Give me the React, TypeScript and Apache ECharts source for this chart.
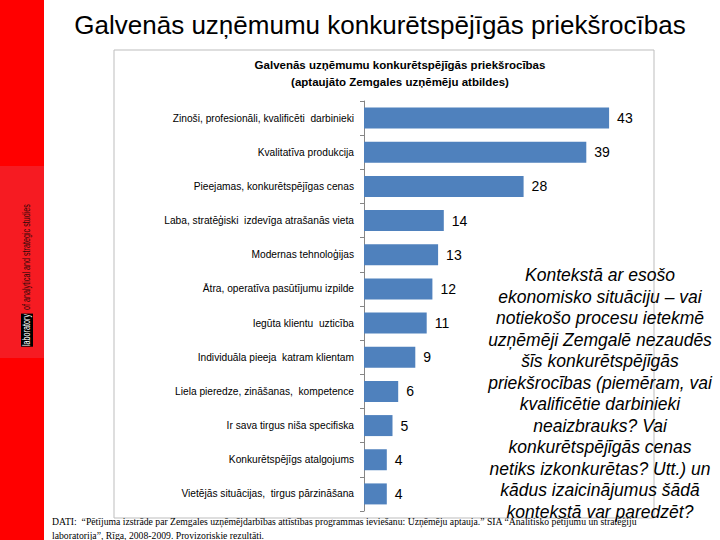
import React, { useEffect, useRef } from "react";
import * as echarts from "echarts";

const categories = [
  "Zinoši, profesionāli, kvalificēti  darbinieki",
  "Kvalitatīva produkcija",
  "Pieejamas, konkurētspējīgas cenas",
  "Laba, stratēģiski  izdevīga atrašanās vieta",
  "Modernas tehnoloģijas",
  "Ātra, operatīva pasūtījumu izpilde",
  "Iegūta klientu  uzticība",
  "Individuāla pieeja  katram klientam",
  "Liela pieredze, zināšanas,  kompetence",
  "Ir sava tirgus niša specifiska",
  "Konkurētspējīgs atalgojums",
  "Vietējās situācijas,  tirgus pārzināšana",
];
const values = [43, 39, 28, 14, 13, 12, 11, 9, 6, 5, 4, 4];

const pageTitle = "Galvenās uzņēmumu konkurētspējīgās priekšrocības";
const chartTitle1 = "Galvenās uzņēmumu konkurētspējīgās priekšrocības";
const chartTitle2 = "(aptaujāto Zemgales uzņēmēju atbildes)";
const sideText = [
  "Kontekstā ar esošo",
  "ekonomisko situāciju – vai",
  "notiekošo procesu ietekmē",
  "uzņēmēji Zemgalē nezaudēs",
  "šīs konkurētspējīgās",
  "priekšrocības (piemēram, vai",
  "kvalificētie darbinieki",
  "neaizbrauks? Vai",
  "konkurētspējīgās cenas",
  "netiks izkonkurētas? Utt.) un",
  "kādus izaicinājumus šādā",
  "kontekstā var paredzēt?",
];
const footLine1 =
  "DATI:  “Pētījuma izstrāde par Zemgales uzņēmējdarbības attīstības programmas ieviešanu: Uzņēmēju aptauja.” SIA “Analītisko pētījumu un stratēģiju";
const footLine2 = "laboratorija”, Rīga, 2008-2009. Provizoriskie rezultāti.";
const sideWord1 = "laboratory";
const sideWord2 = "of analytical and strategic studies";

export default function App() {
  const ref = useRef<HTMLDivElement>(null);
  useEffect(() => {
    if (!ref.current) return;
    const chart = echarts.init(ref.current, undefined, { renderer: "svg" });
    const sideGraphics = sideText.map((t, i) => ({
      type: "text",
      x: 600,
      y: 275 + i * 21.5,
      z: 20,
      style: {
        text: t,
        fontFamily: "Liberation Sans, Arial, sans-serif",
        fontStyle: "italic",
        fontSize: 17.5,
        fill: "#000",
        align: "center",
        verticalAlign: "middle",
      },
    }));
    chart.setOption({
      animation: false,
      backgroundColor: "#fff",
      grid: { left: 364, top: 101, width: 285, height: 410, containLabel: false },
      xAxis: {
        type: "value",
        min: 0,
        max: 50,
        show: false,
      },
      yAxis: {
        type: "category",
        inverse: true,
        data: categories,
        axisLine: { show: true, lineStyle: { color: "#868686", width: 1 } },
        axisTick: { show: true, length: 4, lineStyle: { color: "#868686" } },
        axisLabel: {
          margin: 10,
          color: "#000",
          fontFamily: "Liberation Sans, Arial, sans-serif",
          fontSize: 10.2,
        },
        splitLine: { show: false },
      },
      series: [
        {
          type: "bar",
          data: values,
          barWidth: 21,
          itemStyle: { color: "#4f81bd" },
          label: {
            show: true,
            position: "right",
            distance: 8,
            color: "#000",
            fontFamily: "Liberation Sans, Arial, sans-serif",
            fontSize: 14,
          },
        },
      ],
      graphic: [
        { type: "rect", shape: { x: 0, y: 0, width: 44, height: 540 }, style: { fill: "#ff0000" }, z: 1 },
        { type: "rect", shape: { x: 0, y: 166, width: 44, height: 192 }, style: { fill: "#f61b22" }, z: 2 },
        {
          type: "group",
          x: 27,
          y: 346,
          rotation: Math.PI / 2,
          scaleX: 0.72,
          z: 5,
          children: [
            { type: "rect", z: 6, shape: { x: -1, y: -6, width: 46, height: 12 }, style: { fill: "#000" } },
            {
              type: "text",
              z: 7,
              x: 0,
              y: 0,
              style: {
                text: sideWord1,
                fill: "#fff",
                fontFamily: "Liberation Sans, Arial, sans-serif",
                fontSize: 10,
                verticalAlign: "middle",
                align: "left",
              },
            },
            {
              type: "text",
              z: 7,
              x: 50,
              y: 0,
              style: {
                text: sideWord2,
                fill: "#300808",
                fontFamily: "Liberation Sans, Arial, sans-serif",
                fontSize: 10,
                verticalAlign: "middle",
                align: "left",
              },
            },
          ],
        },
        {
          type: "text",
          x: 380,
          y: 25,
          style: {
            text: pageTitle,
            fontFamily: "Liberation Sans, Arial, sans-serif",
            fontSize: 26,
            fill: "#000",
            align: "center",
            verticalAlign: "middle",
          },
        },
        {
          type: "rect",
          shape: { x: 114, y: 50, width: 540, height: 468 },
          style: { fill: "none", stroke: "#bdbdbd", lineWidth: 1 },
          z: 3,
        },
        {
          type: "text",
          x: 400,
          y: 65,
          style: {
            text: chartTitle1,
            fontFamily: "Liberation Sans, Arial, sans-serif",
            fontWeight: "bold",
            fontSize: 11.5,
            fill: "#000",
            align: "center",
            verticalAlign: "middle",
          },
        },
        {
          type: "text",
          x: 400,
          y: 82,
          style: {
            text: chartTitle2,
            fontFamily: "Liberation Sans, Arial, sans-serif",
            fontWeight: "bold",
            fontSize: 11.5,
            fill: "#000",
            align: "center",
            verticalAlign: "middle",
          },
        },
        ...sideGraphics,
        {
          type: "text",
          x: 52,
          y: 521,
          z: 20,
          style: {
            text: footLine1,
            fontFamily: "Liberation Serif, Times New Roman, serif",
            fontSize: 9.7,
            fill: "#000",
            align: "left",
            verticalAlign: "middle",
          },
        },
        {
          type: "text",
          x: 52,
          y: 535,
          z: 20,
          style: {
            text: footLine2,
            fontFamily: "Liberation Serif, Times New Roman, serif",
            fontSize: 9.7,
            fill: "#000",
            align: "left",
            verticalAlign: "middle",
          },
        },
      ],
    });
    return () => chart.dispose();
  }, []);
  return (
    <div
      ref={ref}
      style={{ position: "fixed", left: 0, top: 0, width: 720, height: 540 }}
    />
  );
}
